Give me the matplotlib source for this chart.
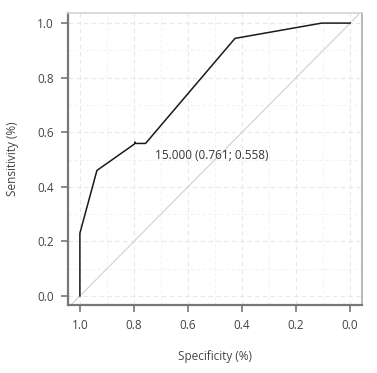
import matplotlib
matplotlib.use('Agg')
import matplotlib.pyplot as plt
from matplotlib.ticker import MultipleLocator

# ROC curve points
specificity = [1.0, 1.0, 0.937, 0.798, 0.796, 0.793, 0.757, 0.426, 0.105, 0.0]
sensitivity = [0.0, 0.23, 0.46, 0.557, 0.564, 0.559, 0.559, 0.944, 1.0, 1.0]
best_spec = 0.761
best_sens = 0.558
best_label = '15.000 (0.761; 0.558)'

plt.rcParams['font.family'] = ['Open Sans', 'DejaVu Sans']

fig = plt.figure(figsize=(3.77, 3.73), dpi=100)
ax = fig.add_axes([68 / 377, 68 / 373, 294 / 377, 292 / 373])

ax.set_xlim(1.044, -0.044)
ax.set_ylim(-0.033, 1.037)

ax.xaxis.set_major_locator(MultipleLocator(0.2))
ax.yaxis.set_major_locator(MultipleLocator(0.2))
ax.xaxis.set_minor_locator(MultipleLocator(0.1))
ax.yaxis.set_minor_locator(MultipleLocator(0.1))
ax.grid(which='major', color='#e8e8e8', linestyle=(0, (4, 3)), linewidth=0.8)
ax.grid(which='minor', color='#f0f0f0', linestyle=(0, (4, 3)), linewidth=0.6)
ax.set_axisbelow(True)

ax.axline((1.0, 0.0), (0.0, 1.0), color='#d0d0d0', linewidth=0.8)
ax.plot(specificity, sensitivity, color='#1a1a1a', linewidth=1.1)
ax.text(best_spec - 0.04, best_sens - 0.045, best_label, fontsize=8.5,
        color='#333333', ha='left', va='center')

ax.xaxis.set_major_formatter(plt.FuncFormatter(lambda v, p: f'{v:.1f}'))
ax.yaxis.set_major_formatter(plt.FuncFormatter(lambda v, p: f'{v:.1f}'))

for side in ['left', 'bottom']:
    ax.spines[side].set_color('#777777')
    ax.spines[side].set_linewidth(1.6)
ax.spines['top'].set_color('#d4d4d4')
ax.spines['top'].set_linewidth(1.2)
ax.spines['right'].set_color('#aaaaaa')
ax.spines['right'].set_linewidth(1.2)

ax.tick_params(which='major', direction='out', length=5, width=1.2,
               color='#777777', labelsize=8.5, labelcolor='#444444', pad=5)
ax.tick_params(which='minor', length=0)

ax.set_xlabel('Specificity (%)', fontsize=8.5, color='#444444', labelpad=13)
ax.set_ylabel('Sensitivity (%)', fontsize=8.5, color='#444444', labelpad=13)

plt.savefig('out.png', dpi=100)
